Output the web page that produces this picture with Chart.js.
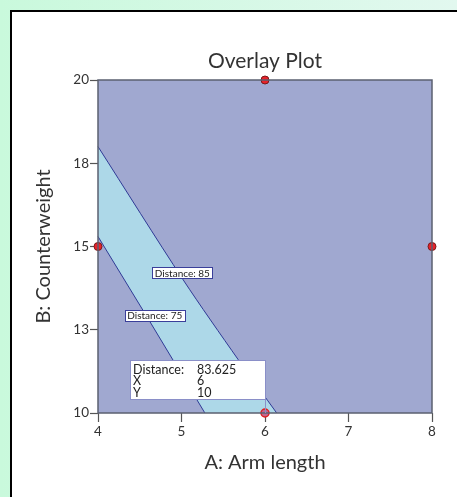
<!DOCTYPE html>
<html>
<head>
<meta charset="utf-8">
<script src="https://cdn.jsdelivr.net/npm/chart.js@4/dist/chart.umd.min.js"></script>
<style>
  html, body { margin: 0; padding: 0; }
  body {
    width: 457px; height: 497px; overflow: hidden; position: relative;
    background: linear-gradient(to right, #c9f9dc, #e2f8ef);
  }
  #panel {
    position: absolute; left: 10px; top: 10px; width: 470px; height: 510px;
    background: #fff; border: 2.5px solid #000; box-sizing: border-box;
  }
  #wrap { position: absolute; left: 0; top: 0; width: 457px; height: 497px; }
</style>
</head>
<body>
<div id="panel"></div>
<div id="wrap"><canvas id="overlay"></canvas></div>
<script>
// Datos del gráfico
const xTicks = [4, 5, 6, 7, 8];
const yTickValues = [10, 12.5, 15, 17.5, 20];
const yTickLabels = ['10', '13', '15', '18', '20'];

// Contorno Distance: 85 (borde superior de la banda)
const upperA = [4, 5.02, 5.68, 6.14];
const upperB = [18.0, 14.0, 11.6, 10.0];
// Contorno Distance: 75 (borde inferior de la banda)
const lowerA = [4, 4.62, 5.28];
const lowerB = [15.3, 12.75, 10.0];

// Puntos del diseño
const designA = [6, 4, 8, 6];
const designB = [20, 15, 15, 10];
const selectedIndex = 3;

// Etiquetas de contorno
const contourText = ['Distance: 85', 'Distance: 75'];
const contourA = [5.01, 4.68];
const contourB = [14.21, 12.92];

// Caja de información del punto seleccionado
const infoLabels = ['Distance:', 'X', 'Y'];
const infoValues = ['83.625', '6', '10'];

const DARK = '#a0a8d0';
const BAND = '#add8e8';
const FONT = 'Lato, "Open Sans", sans-serif';

function toXY(as, bs) {
    return as.map((a, i) => ({ x: a, y: bs[i] }));
}

// Fondo del área del gráfico
const areaBackground = {
    id: 'areaBackground',
    beforeDatasetsDraw(chart) {
        const { ctx, chartArea: a } = chart;
        ctx.save();
        ctx.fillStyle = DARK;
        ctx.fillRect(a.left, a.top, a.right - a.left, a.bottom - a.top);
        ctx.restore();
    }
};

// Borde, etiquetas de contorno y caja de info
const overlayExtras = {
    id: 'overlayExtras',
    afterDatasetsDraw(chart) {
        const { ctx, chartArea: a, scales: { x, y } } = chart;
        ctx.save();
        ctx.strokeStyle = '#5b6070';
        ctx.lineWidth = 1.5;
        ctx.strokeRect(a.left, a.top, a.right - a.left, a.bottom - a.top);

        // etiquetas de contorno
        ctx.font = '10px ' + FONT;
        ctx.textBaseline = 'middle';
        ctx.textAlign = 'center';
        contourText.forEach((t, i) => {
            const px = x.getPixelForValue(contourA[i]);
            const py = y.getPixelForValue(contourB[i]);
            const w = ctx.measureText(t).width + 5;
            const bx = Math.round(px - w / 2) + 0.5, by = Math.round(py - 6) + 0.5;
            ctx.fillStyle = '#fff';
            ctx.fillRect(bx, by, Math.round(w), 11);
            ctx.strokeStyle = '#3a3f9a';
            ctx.lineWidth = 1;
            ctx.strokeRect(bx, by, Math.round(w), 11);
            ctx.fillStyle = '#222';
            ctx.fillText(t, px, py + 0.5);
        });

        // caja de info anclada al punto seleccionado
        const sx = x.getPixelForValue(designA[selectedIndex]);
        const sy = y.getPixelForValue(designB[selectedIndex]);
        const boxW = 135, boxH = 39;
        const bx = sx - boxW, by = sy - 14 - boxH;
        ctx.fillStyle = '#fff';
        ctx.fillRect(bx, by, boxW, boxH);
        ctx.strokeStyle = '#8a8fc8';
        ctx.lineWidth = 1;
        ctx.strokeRect(Math.round(bx) + 0.5, Math.round(by) + 0.5, boxW, boxH);
        ctx.beginPath();
        ctx.moveTo(Math.round(sx) + 0.5, by + boxH);
        ctx.lineTo(Math.round(sx) + 0.5, sy);
        ctx.stroke();
        ctx.font = '12.5px ' + FONT;
        ctx.textAlign = 'left';
        ctx.fillStyle = '#222';
        infoLabels.forEach((l, i) => {
            const ty = by + 9.5 + i * 11.5;
            ctx.fillText(l, bx + 3, ty);
            ctx.fillText(infoValues[i], bx + 67, ty);
        });
        ctx.restore();
    }
};

new Chart(document.getElementById('overlay'), {
    type: 'scatter',
    data: {
        datasets: [
            {
                label: 'Design points',
                data: toXY(designA, designB),
                pointRadius: 4,
                pointBorderWidth: (c) => c.dataIndex === selectedIndex ? 1.5 : 1,
                pointBackgroundColor: (c) => c.dataIndex === selectedIndex ? '#c06890' : '#e8222a',
                pointBorderColor: (c) => c.dataIndex === selectedIndex ? '#e02020' : '#7a1a1a',
                clip: false
            },
            {
                label: 'Distance: 75',
                data: toXY(lowerA, lowerB),
                showLine: true,
                borderColor: '#2f3a96',
                borderWidth: 1,
                backgroundColor: DARK,
                fill: 'start',
                pointRadius: 0,
                clip: false
            },
            {
                label: 'Distance: 85',
                data: toXY(upperA, upperB),
                showLine: true,
                borderColor: '#2f3a96',
                borderWidth: 1,
                backgroundColor: BAND,
                fill: 'start',
                pointRadius: 0,
                tension: 0.3,
                clip: false
            }
        ]
    },
    options: {
        responsive: true,
        maintainAspectRatio: false,
        animation: false,
        layout: { padding: { left: 0, right: 25, top: 0, bottom: 0 } },
        plugins: {
            legend: { display: false },
            tooltip: { enabled: false },
            title: {
                display: true,
                fullSize: false,
                text: 'Overlay Plot',
                color: '#333',
                font: { family: FONT, size: 21, weight: 'normal' },
                padding: { top: 49, bottom: 5.8 }
            }
        },
        scales: {
            x: {
                type: 'linear',
                min: 4, max: 8,
                afterFit(s) { s.height = 84; },
                afterBuildTicks(s) { s.ticks = xTicks.map(v => ({ value: v })); },
                ticks: { color: '#333', font: { family: FONT, size: 13.5 }, padding: 2 },
                grid: { drawOnChartArea: false, tickLength: 9, color: '#555', tickWidth: 1.2 },
                border: { display: false },
                title: {
                    display: true, text: 'A: Arm length', color: '#333',
                    font: { family: FONT, size: 20 }, padding: { bottom: 22 }
                }
            },
            y: {
                type: 'linear',
                min: 10, max: 20,
                afterFit(s) { s.width = 98; },
                afterBuildTicks(s) { s.ticks = yTickValues.map(v => ({ value: v })); },
                ticks: {
                    color: '#333', font: { family: FONT, size: 13.5 }, padding: 1,
                    callback: (v) => yTickLabels[yTickValues.indexOf(v)]
                },
                grid: { drawOnChartArea: false, tickLength: 8, color: '#555', tickWidth: 1.2 },
                border: { display: false },
                title: {
                    display: true, text: 'B: Counterweight', color: '#333',
                    font: { family: FONT, size: 20 }, padding: { top: 32 }
                }
            }
        }
    },
    plugins: [areaBackground, overlayExtras]
});
</script>
</body>
</html>
